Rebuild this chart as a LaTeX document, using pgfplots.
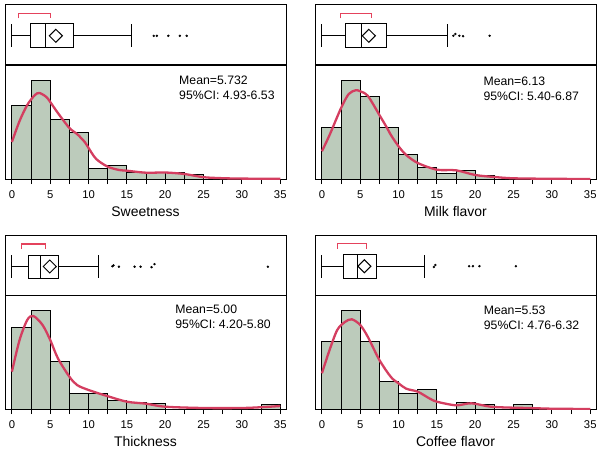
\documentclass[border=0pt]{standalone}
\usepackage{pgfplots}
\pgfplotsset{compat=1.18}
\usepackage{fontspec}
\setmainfont{Liberation Sans}
\definecolor{barfill}{RGB}{188,203,187}
\definecolor{kde}{RGB}{212,62,96}
\definecolor{brk}{RGB}{228,66,92}
\tikzset{meantxt/.style={anchor=north west, inner sep=0pt, align=left, font=\fontsize{12.3}{15}\selectfont}}
\pgfplotsset{
  base/.style={scale only axis, width=281bp, xmin=-0.9, xmax=35.75,
    axis line style={black,line width=1bp}, anchor=north west},
  boxax/.style={base, height=60bp, ymin=0, ymax=60, xtick=\empty, ytick=\empty},
  histax/.style={base, height=114bp, ymin=0, ymax=114, ytick=\empty,
    xtick={0,5,...,35}, minor xtick={2.5,7.5,...,32.5}, tick align=outside,
    xtick pos=bottom, major tick length=5bp, minor tick length=5bp,
    every tick/.style={black,line width=0.9bp},
    ticklabel style={font=\fontsize{11.3}{13}\selectfont},
    xticklabel style={yshift=-3bp},
    /pgf/number format/assume math mode=true,
    xlabel style={font=\fontsize{14}{16}\selectfont, at={(axis description cs:0.5,0)}, anchor=base, yshift=-37.7bp}},
  bars/.style={ybar interval, fill=barfill, draw=black, line width=0.9bp},
  dens/.style={kde, line width=2.3bp, smooth, no markers},
  bx/.style={black, line width=1bp, no markers},
  outl/.style={only marks, mark=*, mark size=1bp, black},
  brak/.style={brk, line width=1.1bp, no markers},
}
\begin{document}
\begin{tikzpicture}
\useasboundingbox (0,0) rectangle (604bp,-455bp);
% ---------------- Panel 1: Sweetness
\begin{axis}[boxax, at={(5bp,-5bp)}]
\addplot[bx] coordinates {(0,29.2) (2.47,29.2)};
\addplot[bx] coordinates {(7.98,29.2) (15.6,29.2)};
\addplot[bx] coordinates {(0,18) (0,40.5)};
\addplot[bx] coordinates {(15.6,18) (15.6,40.5)};
\addplot[bx, fill=white] coordinates {(2.47,17.3) (7.98,17.3) (7.98,41) (2.47,41)} --cycle;
\addplot[bx] coordinates {(4.34,17.3) (4.34,41)};
\addplot[bx] coordinates {(4.88,29.2) (5.73,35.7) (6.58,29.2) (5.73,22.7)} --cycle;
\addplot[brak] coordinates {(0.82,46.7) (0.82,51.7) (5.07,51.7) (5.07,46.7)};
\addplot[outl] coordinates {(18.5,29.2) (18.9,29.2) (20.4,29.2) (21.9,29.2) (22.8,29.2)};
\end{axis}
\begin{axis}[histax, at={(5bp,-65bp)}, xlabel={Sweetness}]
\addplot[bars] coordinates {(0,74) (2.5,99) (5,60) (7.5,47) (10,10.7) (12.5,13.3) (15,6.7) (17.5,6.7) (20,6.7) (22.5,4.3) (25,4.3)};
\addplot[dens] coordinates {(0,37) (1,58) (2,74) (3,84) (3.6,86) (4.5,82) (5,77) (6,66) (7.5,51) (8.5,45) (9.5,37) (10,31) (11,20) (12.5,12.3) (14,9) (15,8.3) (17.5,6.3) (20,6.5) (22.5,5) (25,1.8) (27.5,0.8) (30,0.4) (35,0.2)};
\node[meantxt] at (axis cs:21.8,103.5) {Mean=5.732\\95\%CI: 4.93-6.53};
\end{axis}
% ---------------- Panel 2: Milk flavor
\begin{axis}[boxax, at={(315bp,-5bp)}]
\addplot[bx] coordinates {(0,29.2) (3.04,29.2)};
\addplot[bx] coordinates {(8.38,29.2) (16.33,29.2)};
\addplot[bx] coordinates {(0,18) (0,40.5)};
\addplot[bx] coordinates {(16.33,18) (16.33,40.5)};
\addplot[bx, fill=white] coordinates {(3.04,17.3) (8.38,17.3) (8.38,41) (3.04,41)} --cycle;
\addplot[bx] coordinates {(5.17,17.3) (5.17,41)};
\addplot[bx] coordinates {(5.27,29.2) (6.12,35.7) (6.97,29.2) (6.12,22.7)} --cycle;
\addplot[brak] coordinates {(2.43,46.7) (2.43,51.7) (6.51,51.7) (6.51,46.7)};
\addplot[outl] coordinates {(17.15,29.2) (17.4,31) (17.93,29.2) (18.41,28.8) (21.88,29.2)};
\end{axis}
\begin{axis}[histax, at={(315bp,-65bp)}, xlabel={Milk flavor}]
\addplot[bars] coordinates {(0,51.7) (2.5,98.7) (5,83) (7.5,51.7) (10,24.3) (12.5,11.7) (15,6) (17.5,8.7) (20,4) (22.5,4)};
\addplot[dens] coordinates {(0,27.7) (1,44) (2.5,71) (3.5,85) (4.4,88.7) (5,87.7) (6,83) (7.5,64) (8.5,51) (9,44) (10,32.7) (11,24) (12.5,16) (15,9.3) (17.5,8.7) (20,4) (22.5,2) (25,0.7) (30,0.2) (35,0)};
\node[meantxt] at (axis cs:21.06,102.3) {Mean=6.13\\95\%CI: 5.40-6.87};
\end{axis}
% ---------------- Panel 3: Thickness
\begin{axis}[boxax, at={(5bp,-235bp)}]
\addplot[bx] coordinates {(0,28.5) (2.12,28.5)};
\addplot[bx] coordinates {(6.07,28.5) (11.23,28.5)};
\addplot[bx] coordinates {(0,17.3) (0,39.8)};
\addplot[bx] coordinates {(11.23,17.3) (11.23,39.8)};
\addplot[bx, fill=white] coordinates {(2.12,16.7) (6.07,16.7) (6.07,40) (2.12,40)} --cycle;
\addplot[bx] coordinates {(3.69,16.7) (3.69,40)};
\addplot[bx] coordinates {(4.09,28.5) (4.94,35) (5.79,28.5) (4.94,22)} --cycle;
\addplot[brak] coordinates {(1.3,46) (1.3,51) (4.38,51) (4.38,46)};
\addplot[outl] coordinates {(13.1,28.7) (13.25,29.7) (13.96,28.3) (16.0,28.3) (16.78,28.3) (18.21,27.8) (18.6,30.8) (33.39,28.3)};
\end{axis}
\begin{axis}[histax, at={(5bp,-295bp)}, xlabel={Thickness}]
\addplot[bars] coordinates {(0,81.7) (2.5,99) (5,48) (7.5,15.7) (10,15.7) (12.5,9) (15,6.7) (17.5,5.3) (20,0) (32.5,4.3) (35,4.3)};
\addplot[dens] coordinates {(0,37.3) (1,69) (2,89) (2.8,93) (4,84) (5,69) (6,50.7) (7.5,32.3) (8.5,24) (10,19) (12.5,12.8) (15,7.3) (17.5,5.3) (20,2.3) (25,1) (30,1) (33,2) (35,3)};
\node[meantxt] at (axis cs:21.3,104) {Mean=5.00\\95\%CI: 4.20-5.80};
\end{axis}
% ---------------- Panel 4: Coffee flavor
\begin{axis}[boxax, at={(315bp,-235bp)}]
\addplot[bx] coordinates {(0,28.8) (2.77,28.8)};
\addplot[bx] coordinates {(7.18,28.8) (13.37,28.8)};
\addplot[bx] coordinates {(0,17.5) (0,40)};
\addplot[bx] coordinates {(13.37,17.5) (13.37,40)};
\addplot[bx, fill=white] coordinates {(2.77,17) (7.18,17) (7.18,40.3) (2.77,40.3)} --cycle;
\addplot[bx] coordinates {(4.63,17) (4.63,40.3)};
\addplot[bx] coordinates {(4.69,28.8) (5.54,35.3) (6.39,28.8) (5.54,22.3)} --cycle;
\addplot[brak] coordinates {(2.03,46.3) (2.03,51.3) (5.84,51.3) (5.84,46.3)};
\addplot[outl] coordinates {(14.6,28) (14.8,30) (19.2,28.8) (19.7,28.8) (20.55,28.8) (25.3,28.8)};
\end{axis}
\begin{axis}[histax, at={(315bp,-295bp)}, xlabel={Coffee flavor}]
\addplot[bars] coordinates {(0,67.7) (2.5,98.7) (5,67.7) (7.5,27.3) (10,15.7) (12.5,19.7) (15,0) (17.5,6.3) (20,4.3) (22.5,0) (25,4.3) (27.5,4.3)};
\addplot[dens] coordinates {(0,35.7) (1,59) (2,79) (3,87) (3.9,89.7) (5,84) (6,72) (7.5,49) (9,32) (10,25.7) (11,20.3) (12.5,17.3) (14,10.7) (15,7.3) (17.5,3.7) (19.5,5.7) (22,2.3) (25,1.3) (27,1) (30,0.3) (35,0)};
\node[meantxt] at (axis cs:21.1,103.3) {Mean=5.53\\95\%CI: 4.76-6.32};
\end{axis}
\end{tikzpicture}
\end{document}
